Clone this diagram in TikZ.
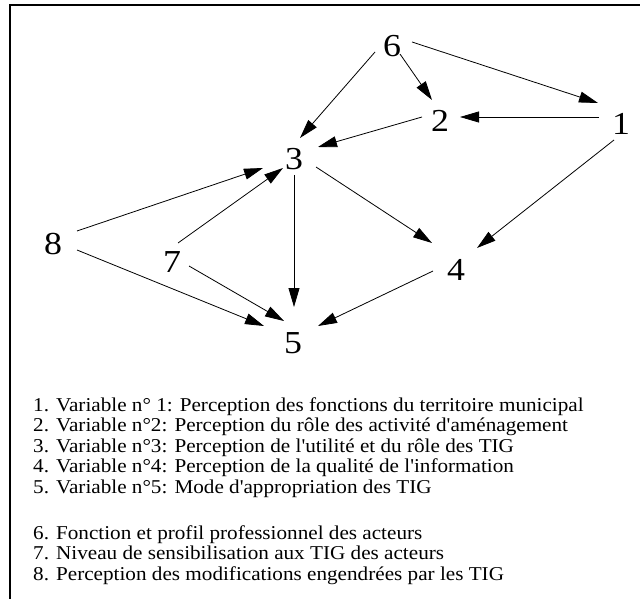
\documentclass[tikz,border=0pt]{standalone}
\usepackage{fontspec}
\setmainfont{Liberation Serif}
% Times-like faces with straight apostrophes, slightly widened
\newfontfamily\numfont[FakeStretch=1.12]{Liberation Serif}
\newfontfamily\legfont[FakeStretch=1.08]{Liberation Serif}
\usetikzlibrary{arrows.meta,calc}
\begin{document}
\begin{tikzpicture}[x=1pt,y=-1pt,
  var/.style={inner sep=0pt,font=\numfont\fontsize{32}{38}\selectfont},
  edge/.style={line width=0.8pt,-{Triangle[length=19pt,width=11pt]}},
  legend/.style={anchor=base west,inner sep=0pt,font=\legfont\fontsize{19.6}{22}\selectfont}]
\useasboundingbox (0,0) rectangle (640,599);
% frame (top and left sides)
\draw[line width=1.3pt] (640,5) -- (10,5) -- (10,599);
% variables
\node[var] (n6) at (392,46) {6};
\node[var] (n2) at (440,121) {2};
\node[var] (n1) at (621,124) {1};
\node[var] (n3) at (294,159) {3};
\node[var] (n8) at (53,244) {8};
\node[var] (n7) at (172,262) {7};
\node[var] (n4) at (456,270) {4};
\node[var] (n5) at (293,343) {5};
% influences
\draw[edge] ($(n6)+(-17,6)$) -- ($(n3)+(6,-21)$);
\draw[edge] ($(n6)+(8,8)$) -- ($(n2)+(-8,-21)$);
\draw[edge] ($(n6)+(20,-4)$) -- ($(n1)+(-23,-21)$);
\draw[edge] ($(n1)+(-22,-7)$) -- ($(n2)+(20,-4)$);
\draw[edge] ($(n2)+(-18,-4)$) -- ($(n3)+(24,-12)$);
\draw[edge] ($(n1)+(-7,16)$) -- ($(n4)+(21,-22)$);
\draw[edge] ($(n3)+(22,8)$) -- ($(n4)+(-24,-27)$);
\draw[edge] ($(n3)+(0,16)$) -- ($(n5)+(1,-36)$);
\draw[edge] ($(n8)+(24,-13)$) -- ($(n3)+(-31,9)$);
\draw[edge] ($(n7)+(6,-19)$) -- ($(n3)+(-11,9)$);
\draw[edge] ($(n8)+(24,6)$) -- ($(n5)+(-29,-17)$);
\draw[edge] ($(n7)+(17,4)$) -- ($(n5)+(-9,-22)$);
\draw[edge] ($(n4)+(-23,1)$) -- ($(n5)+(25,-17)$);
% legend
\node[legend] (l1) at (33,411) {1. Variable n° 1: Perception des fonctions du territoire municipal};
\node[legend] (l2) at (33,431) {2. Variable n°2: Perception du rôle des activité d'aménagement};
\node[legend] (l3) at (33,452) {3. Variable n°3: Perception de l'utilité et du rôle des TIG};
\node[legend] (l4) at (33,472) {4. Variable n°4: Perception de la qualité de l'information};
\node[legend] (l5) at (33,493) {5. Variable n°5: Mode d'appropriation des TIG};
\node[legend] (l6) at (33,539) {6. Fonction et profil professionnel des acteurs};
\node[legend] (l7) at (33,559) {7. Niveau de sensibilisation aux TIG des acteurs};
\node[legend] (l8) at (33,580) {8. Perception des modifications engendrées par les TIG};
\end{tikzpicture}
\end{document}
